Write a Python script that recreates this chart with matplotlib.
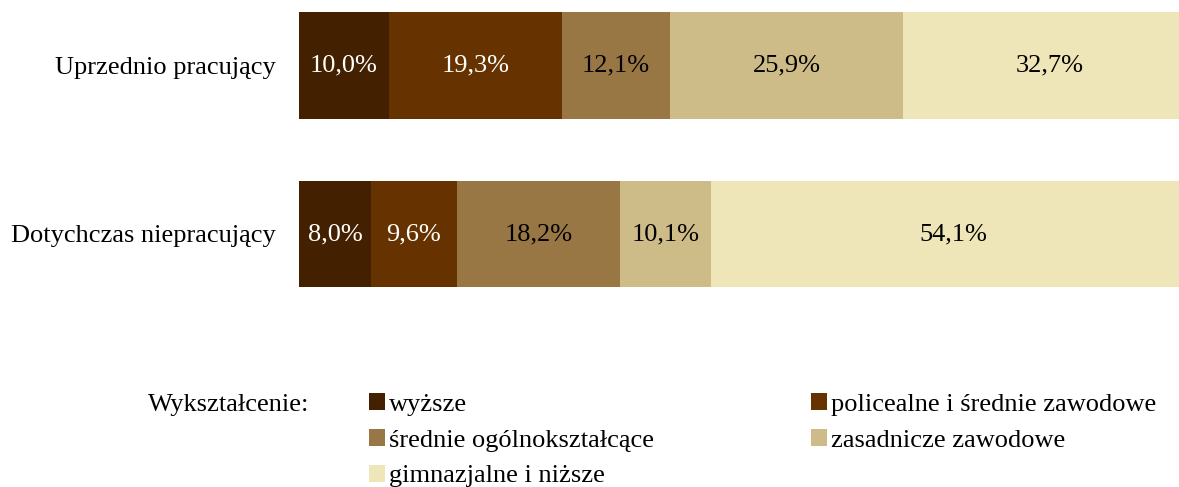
import numpy as np
import matplotlib.pyplot as plt
from matplotlib.patches import Patch

plt.rcParams['font.family'] = ['Liberation Serif', 'DejaVu Serif']

groups = ["Uprzednio pracujący", "Dotychczas niepracujący"]
levels = ["wyższe", "policealne i średnie zawodowe", "średnie ogólnokształcące",
          "zasadnicze zawodowe", "gimnazjalne i niższe"]
upr = [10.0, 19.3, 12.1, 25.9, 32.7]
dot = [8.0, 9.6, 18.2, 10.1, 54.1]
colors = ["#432100", "#663300", "#997744", "#CDBB88", "#EEE5B8"]
txt_col = ["white", "white", "black", "black", "black"]

vals = np.array([upr, dot])

fig = plt.figure(figsize=(11.79, 4.87), dpi=100)
ax = fig.add_axes([299 / 1179, 1 - 300 / 487, 897 / 1179, 300 / 487])

y = np.arange(len(groups))
left = np.zeros(len(groups))
handles = []
for i in range(len(levels)):
    ax.barh(y, vals[:, i], left=left, height=0.63, color=colors[i], edgecolor="none")
    for j in range(len(groups)):
        ax.text(left[j] + vals[j, i] / 2, y[j], f"{vals[j, i]:.1f}%".replace(".", ","),
                ha="center", va="center", color=txt_col[i], fontsize=19)
    left += vals[:, i]
    handles.append(Patch(facecolor=colors[i], label=levels[i]))

ax.set_xlim(0, 100)
ax.set_ylim(1.392, -0.389)
ax.set_yticks(y)
ax.set_yticklabels(groups, fontsize=19)
ax.tick_params(axis="y", length=0, pad=16.5)
ax.set_xticks([])
for s in ax.spines.values():
    s.set_visible(False)

fig.text(148 / 1179, 1 - 405 / 487, "Wykształcenie:", fontsize=19, va="center", ha="left")
order = [0, 2, 4, 1, 3]
fig.legend([handles[k] for k in order], [levels[k] for k in order],
           loc="upper left", bbox_to_anchor=(369 / 1179, 1 - 393 / 487),
           ncol=2, frameon=False, fontsize=19, handlelength=0.6, handleheight=0.6,
           handletextpad=0.15, labelspacing=0.5, columnspacing=5.95, borderpad=0, borderaxespad=0)

fig.savefig("out.png", dpi=100)
